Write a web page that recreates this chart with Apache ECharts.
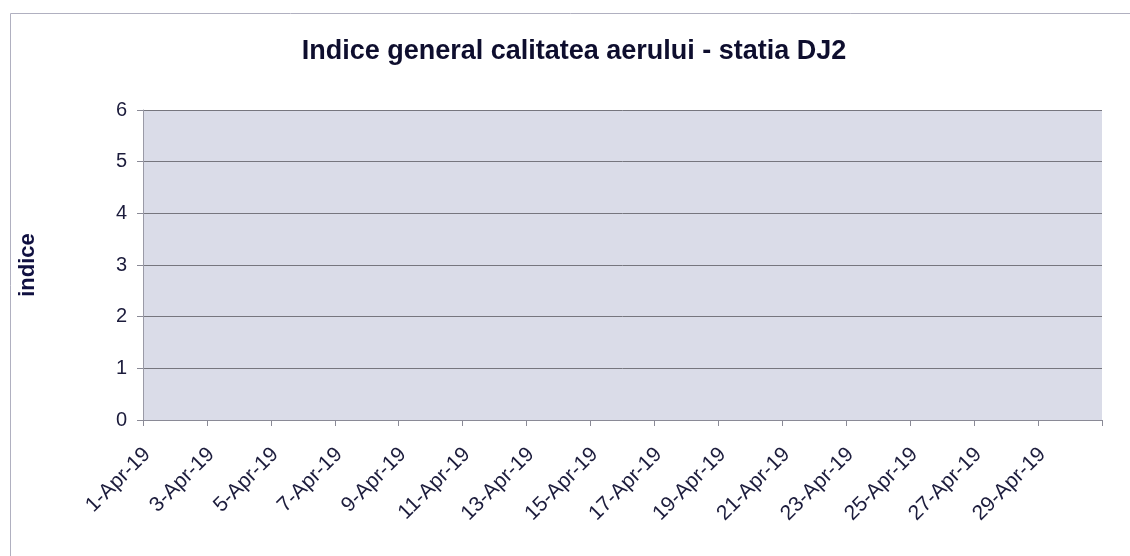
<!DOCTYPE html>
<html>
<head>
<meta charset="utf-8">
<script src="https://cdn.jsdelivr.net/npm/echarts@6/dist/echarts.min.js"></script>
<style>
  html, body { margin: 0; padding: 0; background: #fff; }
  #chart { width: 1130px; height: 556px; }
</style>
</head>
<body>
<div id="chart"></div>
<script>
// days of April 2019, one entry per day
const days = [
  "1-Apr-19", "2-Apr-19", "3-Apr-19", "4-Apr-19", "5-Apr-19", "6-Apr-19",
  "7-Apr-19", "8-Apr-19", "9-Apr-19", "10-Apr-19", "11-Apr-19", "12-Apr-19",
  "13-Apr-19", "14-Apr-19", "15-Apr-19", "16-Apr-19", "17-Apr-19", "18-Apr-19",
  "19-Apr-19", "20-Apr-19", "21-Apr-19", "22-Apr-19", "23-Apr-19", "24-Apr-19",
  "25-Apr-19", "26-Apr-19", "27-Apr-19", "28-Apr-19", "29-Apr-19", "30-Apr-19"
];
// no values are plotted in the source chart
const indexValues = [
  null, null, null, null, null, null, null, null, null, null,
  null, null, null, null, null, null, null, null, null, null,
  null, null, null, null, null, null, null, null, null, null
];
const yTicks = [0, 1, 2, 3, 4, 5, 6];

const textColor = "#1c1c3c";
const chart = echarts.init(document.getElementById("chart"));

chart.setOption({
  animation: false,
  textStyle: { fontFamily: "Liberation Sans, Arial, sans-serif" },
  title: {
    text: "Indice general calitatea aerului - statia DJ2",
    left: 569,
    textAlign: "center",
    top: 33,
    textStyle: { fontSize: 27, fontWeight: "bold", color: "#0e0e2e" }
  },
  graphic: [{
    type: "rect",
    silent: true,
    shape: { x: 10.5, y: 13.5, width: 1140, height: 560 },
    style: { fill: "none", stroke: "#b0b0c0", lineWidth: 1 }
  }],
  grid: {
    left: 143, right: 28, top: 110, bottom: 136,
    show: true, backgroundColor: "#dadce8", borderWidth: 0
  },
  xAxis: {
    type: "value",
    min: 0,
    max: days.length,
    interval: 2,
    axisLine: { show: true, onZero: false, lineStyle: { color: "#8a8a96", width: 1 } },
    axisTick: { show: true, length: 6, lineStyle: { color: "#8a8a96" } },
    splitLine: { show: false },
    axisLabel: {
      rotate: 45,
      margin: 27,
      fontSize: 21,
      lineHeight: 12,
      verticalAlign: "top",
      color: textColor,
      showMaxLabel: true,
      formatter: v => days[v] || ""
    }
  },
  yAxis: {
    type: "value",
    min: yTicks[0],
    max: yTicks[yTicks.length - 1],
    interval: 1,
    name: "indice",
    nameLocation: "middle",
    nameGap: 104,
    nameTextStyle: { fontSize: 22, fontWeight: "bold", color: "#101040" },
    axisLine: { show: true, lineStyle: { color: "#9a9aa6", width: 1 } },
    axisTick: { show: true, length: 6, lineStyle: { color: "#8a8a96" } },
    splitLine: { show: true, lineStyle: { color: "#76767e", width: 1 } },
    axisLabel: { fontSize: 20, margin: 16, color: textColor }
  },
  series: [{
    type: "line",
    name: "indice",
    showSymbol: false,
    connectNulls: false,
    data: days.map((d, i) => [i, indexValues[i]])
  }]
});
</script>
</body>
</html>
